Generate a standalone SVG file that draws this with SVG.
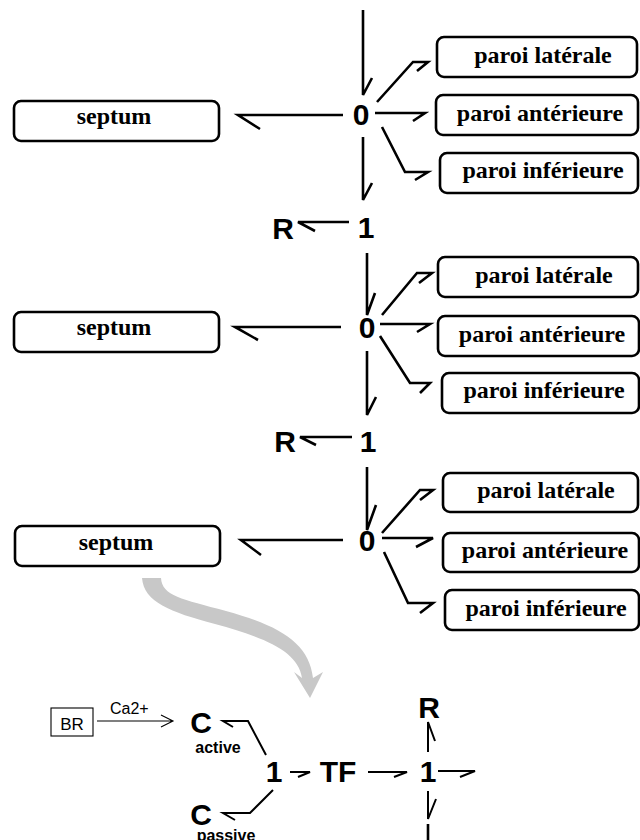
<svg xmlns="http://www.w3.org/2000/svg" width="640" height="840" viewBox="0 0 640 840">
<style>
.box{fill:#fff;stroke:#000;stroke-width:2.6}
.lbl{font-family:"Liberation Serif","Times New Roman",serif;font-weight:bold;font-size:24px;text-anchor:middle;fill:#000}
.jn{font-family:"Liberation Sans",Arial,sans-serif;font-weight:bold;font-size:30px;text-anchor:middle;fill:#000}
.sm{font-family:"Liberation Sans",Arial,sans-serif;font-weight:bold;font-size:16px;text-anchor:middle;fill:#000}
.bond{fill:none;stroke:#000;stroke-width:2.6;stroke-linejoin:miter;stroke-linecap:butt}
.bond2{fill:none;stroke:#000;stroke-width:2;stroke-linejoin:miter}
.thin{fill:none;stroke:#000;stroke-width:1.1}
</style>
<rect width="640" height="840" fill="#fff"/>

<!-- Block 1 -->
<g id="septum1"><rect class="box" x="14" y="101" width="205" height="40" rx="7"/><text class="lbl" x="114" y="124">septum</text></g>
<g id="lat1"><rect class="box" x="437" y="37" width="200" height="40" rx="7"/><text class="lbl" x="543" y="63">paroi latérale</text></g>
<g id="ant1"><rect class="box" x="436" y="95" width="202" height="40" rx="7"/><text class="lbl" x="540" y="121">paroi antérieure</text></g>
<g id="inf1"><rect class="box" x="440" y="153" width="198" height="40" rx="7"/><text class="lbl" x="543" y="178">paroi inférieure</text></g>
<g id="zero1"><text class="jn" x="361" y="125">0</text></g>
<g id="one1"><text class="jn" x="366" y="238">1</text></g>
<g id="r1"><text class="jn" x="283" y="239">R</text></g>

<!-- Block 2 -->
<g id="septum2"><rect class="box" x="14" y="312" width="205" height="40" rx="7"/><text class="lbl" x="114" y="335">septum</text></g>
<g id="lat2"><rect class="box" x="438" y="257" width="200" height="40" rx="7"/><text class="lbl" x="544" y="283">paroi latérale</text></g>
<g id="ant2"><rect class="box" x="438" y="316" width="201" height="40" rx="7"/><text class="lbl" x="542" y="342">paroi antérieure</text></g>
<g id="inf2"><rect class="box" x="442" y="373" width="197" height="40" rx="7"/><text class="lbl" x="544" y="398">paroi inférieure</text></g>
<g id="zero2"><text class="jn" x="367" y="338">0</text></g>
<g id="one2"><text class="jn" x="368" y="452">1</text></g>
<g id="r2"><text class="jn" x="285" y="452">R</text></g>

<!-- Block 3 -->
<g id="septum3"><rect class="box" x="15" y="526" width="205" height="40" rx="7"/><text class="lbl" x="116" y="550">septum</text></g>
<g id="lat3"><rect class="box" x="443" y="473" width="195" height="39" rx="7"/><text class="lbl" x="546" y="498">paroi latérale</text></g>
<g id="ant3"><rect class="box" x="443" y="533" width="196" height="39" rx="7"/><text class="lbl" x="545" y="558">paroi antérieure</text></g>
<g id="inf3"><rect class="box" x="445" y="590" width="194" height="40" rx="7"/><text class="lbl" x="546" y="616">paroi inférieure</text></g>
<g id="zero3"><text class="jn" x="367" y="551">0</text></g>

<!-- Bottom detail -->
<g id="br"><rect class="thin" x="51" y="708" width="42" height="28"/><text x="72" y="730" font-family="Liberation Sans, Arial, sans-serif" font-size="17" text-anchor="middle">BR</text></g>
<g id="cactive"><text class="jn" x="201" y="733" font-size="26">C</text><text class="sm" x="218" y="753">active</text></g>
<g id="cpassive"><text class="jn" x="201" y="825" font-size="26">C</text><text class="sm" x="226" y="841">passive</text></g>
<g id="one3"><text class="jn" x="274" y="782">1</text></g>
<g id="tf"><text class="jn" x="338" y="782">TF</text></g>
<g id="one4"><text class="jn" x="428" y="782">1</text></g>
<g id="r3"><text class="jn" x="429" y="718" font-size="18">R</text></g>

<!-- Connectors -->
<g id="connectors">
  <path class="bond" d="M363,10 V95 L372,78"/>
  <path class="bond" d="M343,115 H238 L260,129"/>
  <path class="bond" d="M377,102 L413,62 H428 L417,71"/>
  <path class="bond" d="M375,113 H425 L413,121"/>
  <path class="bond" d="M382,127 L405,172 H428 L415,180"/>
  <path class="bond" d="M363,137 V200 L372,183"/>
  <path class="bond" d="M349,222 H298 L315,231"/>

  <path class="bond" d="M367,253 V315 L375,293"/>
  <path class="bond" d="M341,327 H235 L258,340"/>
  <path class="bond" d="M382,315 L417,273 H432 L419,283"/>
  <path class="bond" d="M380,324 H430 L417,332"/>
  <path class="bond" d="M380,336 L410,383 H430 L420,393"/>
  <path class="bond" d="M367,351 V415 L376,397"/>
  <path class="bond" d="M352,437 H300 L316,445"/>

  <path class="bond" d="M367,467 V530 L376,505"/>
  <path class="bond" d="M343,540 H241 L261,555"/>
  <path class="bond" d="M382,533 L420,490 H433 L420,500"/>
  <path class="bond" d="M382,538 H433 L416,547"/>
  <path class="bond" d="M384,552 L408,603 H433 L420,613"/>

  <path fill="#c8c8c8" d="M142,578 C144,602 170,612 215,624 C262,637 298,650 302,678 L294,672 L310,698 L323,672 L313,678 C309,643 280,626 226,611 C182,599 162,596 161,578 Z"/>

  <path class="thin" d="M97,721 H173 M161,715 L173,721 L161,727"/>
  <text x="110" y="714" font-family="Liberation Sans, Arial, sans-serif" font-size="16">Ca2+</text>
  <path class="bond2" d="M266,755 L248,721 H223 L233,727"/>
  <path class="bond2" d="M273,790 L250,813 H223 L235,820"/>
  <path class="bond2" d="M290,772 H310 L298,777"/>
  <path class="bond2" d="M368,772 H407 L394,777"/>
  <path class="bond2" d="M438,771 H475 L460,777"/>
  <path class="bond2" d="M428,752 V722 L435,741"/>
  <path class="bond2" d="M428,791 V819 L436,799"/>
  <path class="bond" d="M428,824 V840" stroke-width="3"/>
</g>
</svg>
